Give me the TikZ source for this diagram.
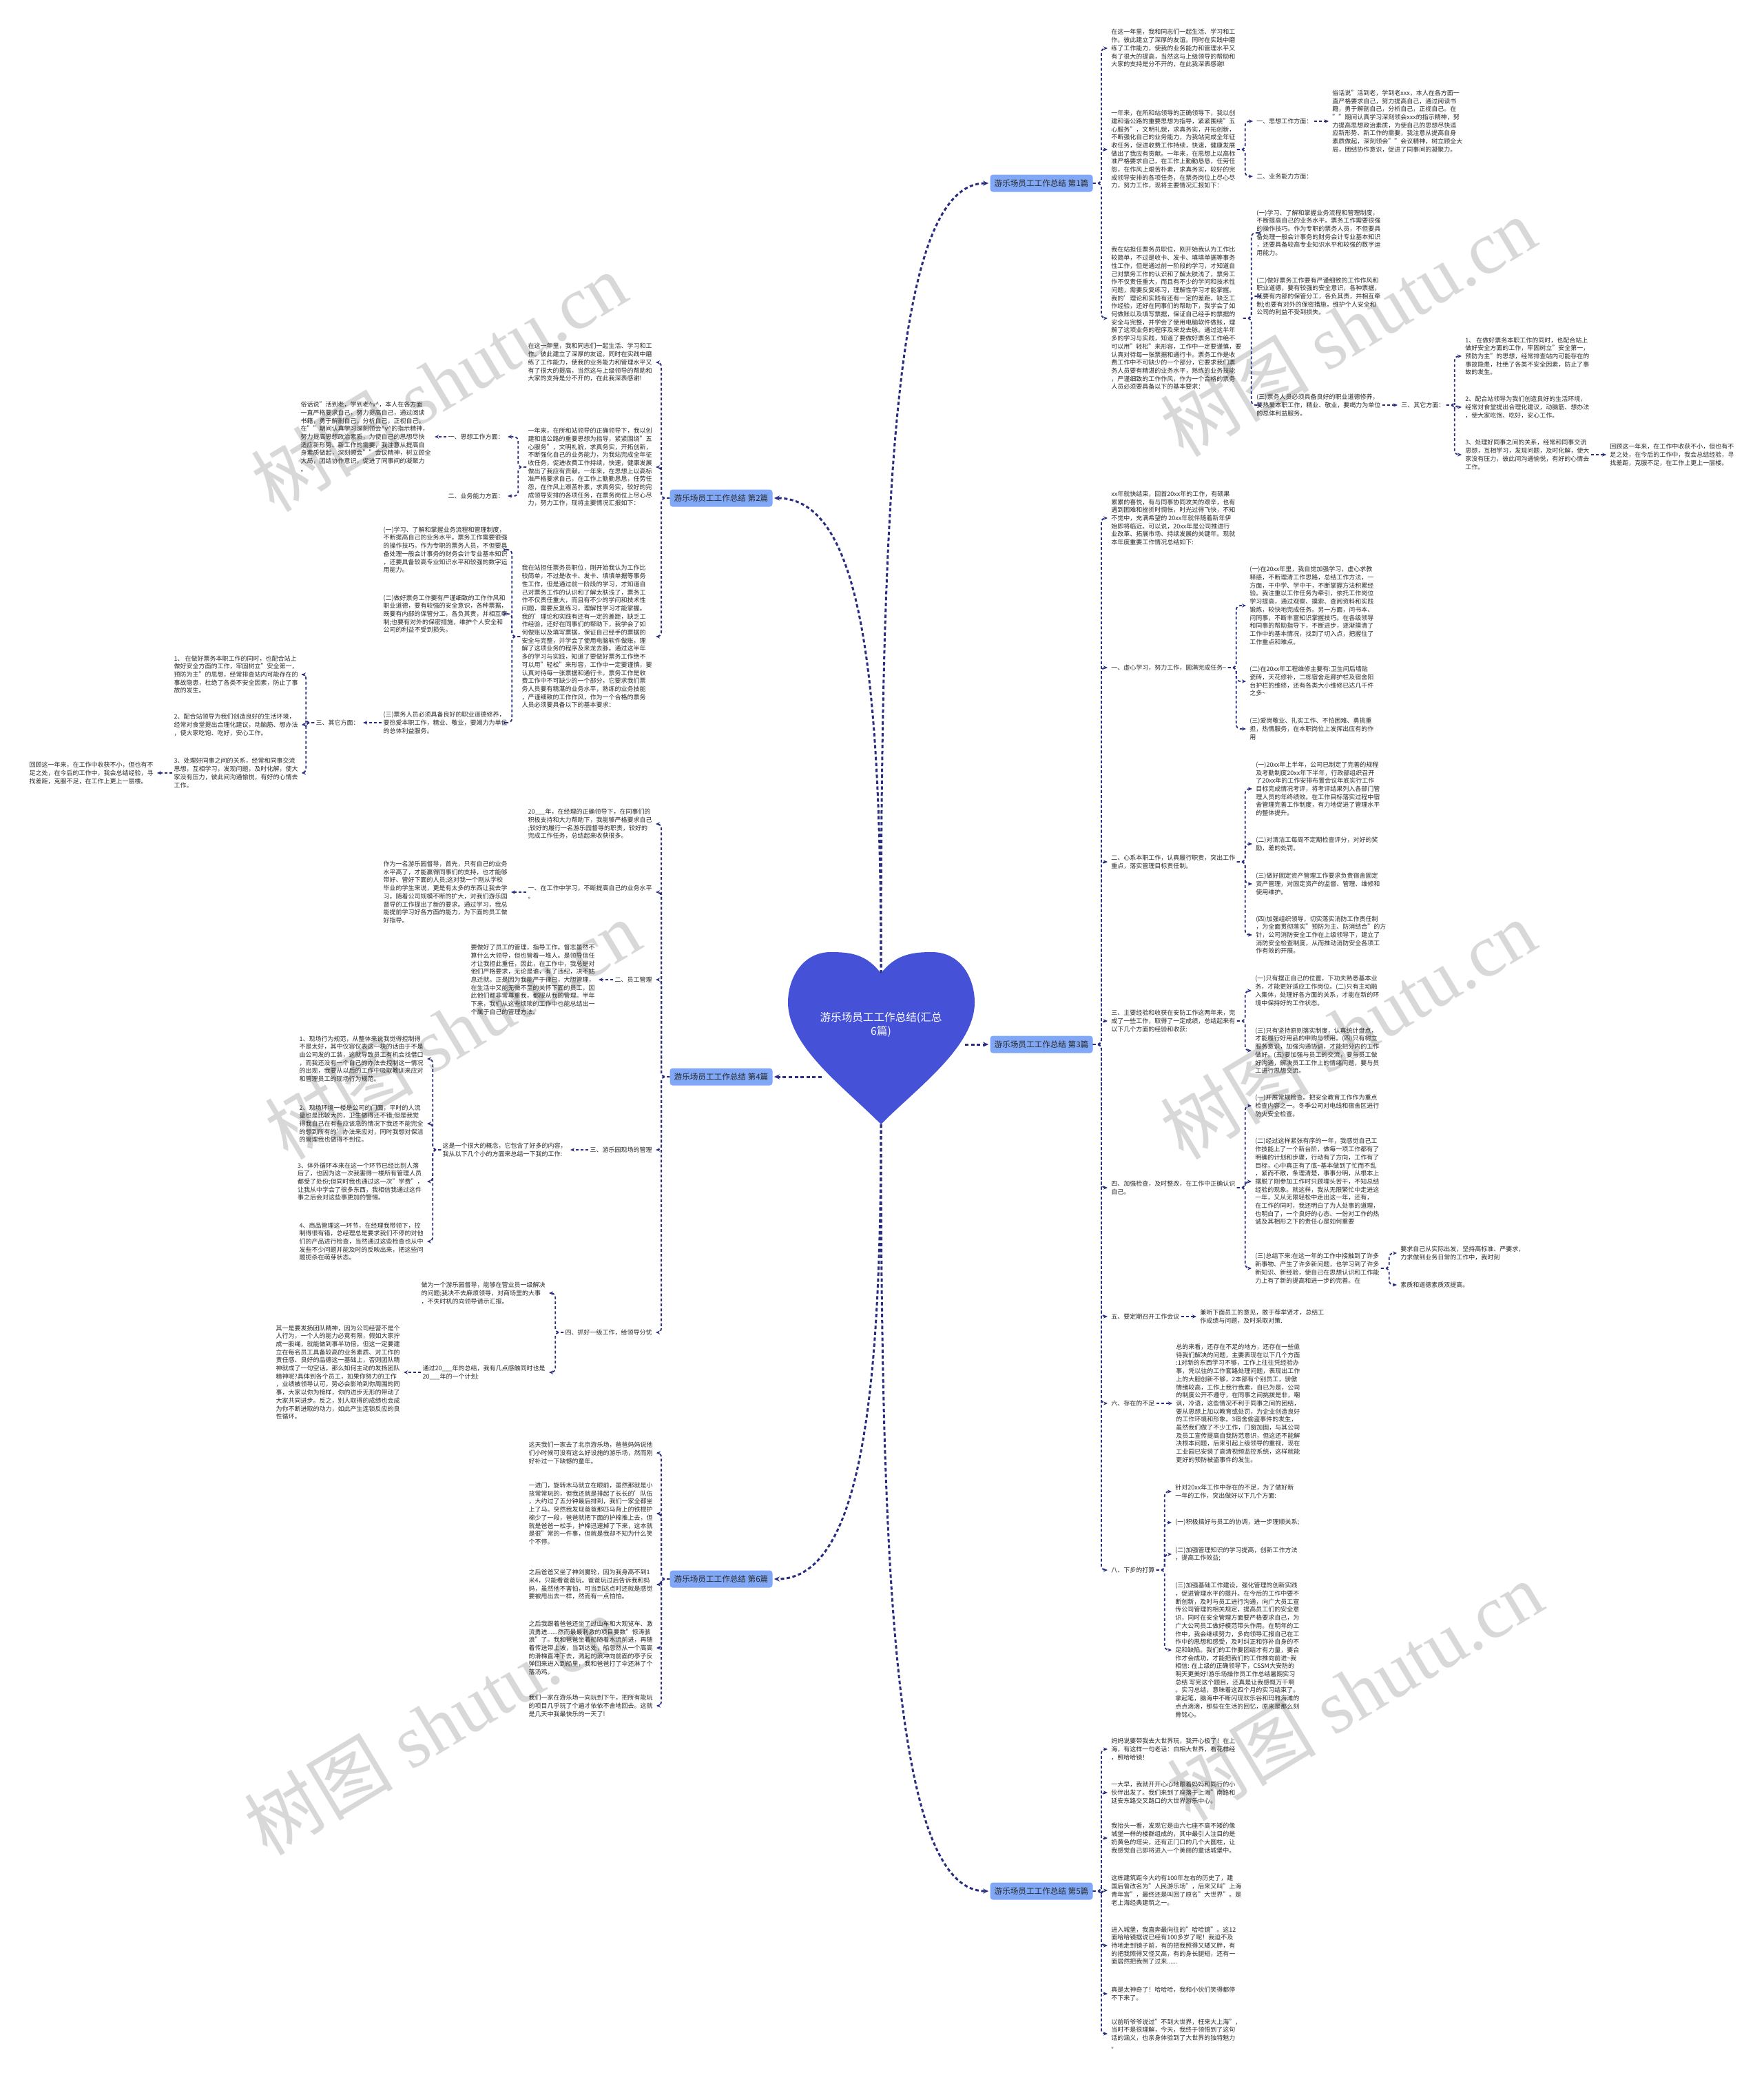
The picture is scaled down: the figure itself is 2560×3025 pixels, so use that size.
\documentclass[tikz,border=0pt]{standalone}
\usepackage{fontspec}
\setmainfont{Noto Sans CJK SC}
\newfontfamily\wmserif{Liberation Serif}
\usetikzlibrary{arrows.meta}
\XeTeXlinebreaklocale "zh"
\XeTeXlinebreakskip = 0pt plus 1pt
\definecolor{linkc}{RGB}{42,46,128}
\definecolor{heartc}{RGB}{69,81,214}
\definecolor{branchc}{RGB}{128,168,246}
\definecolor{textc}{RGB}{40,40,40}
\definecolor{wmc}{RGB}{216,216,216}
\newcommand\fs{\fontsize{4.5pt}{5.85pt}\selectfont}
\newcommand\bfs{\fontsize{5.8pt}{7pt}\selectfont}
\newcommand\hfs{\fontsize{7.8pt}{10pt}\selectfont}
\newcommand\wmfs{\fontsize{54pt}{60pt}\selectfont}
\newcommand\rconn[2]{\draw[lnk] (#1.east) -- ++(12,0) |- (#2.west);}
\newcommand\lconn[2]{\draw[lnk] (#1.west) -- ++(-12,0) |- (#2.east);}
\newcommand\wmark[3]{%
\begin{scope}[shift={(#1,#2)}, rotate=31, transform shape]
\node[wmch] (#3a) at (-303,35) {树};
\node[wmch] (#3b) at (-195,35) {图};
\node[wmch,wmlat] (#3c) at (-60,35) {s};
\node[wmch,wmlat] (#3d) at (-18,35) {h};
\node[wmch,wmlat] (#3e) at (36,35) {u};
\node[wmch,wmlat] (#3f) at (90,35) {t};
\node[wmch,wmlat] (#3g) at (120,35) {u};
\node[wmch,wmlat] (#3h) at (174,35) {.};
\node[wmch,wmlat] (#3i) at (201,35) {c};
\node[wmch,wmlat] (#3j) at (249,35) {n};
\end{scope}}
\begin{document}
\begin{tikzpicture}[x=0.5pt,y=-0.5pt,
  txt/.style={font=\fs, align=left, inner sep=1pt, text=textc},
  lnk/.style={draw=linkc, line width=0.9pt, dash pattern=on 2pt off 1.6pt, rounded corners=3pt, -{Stealth[length=3pt,width=2.6pt]}, shorten >=1.5pt},
  mainlnk/.style={draw=linkc, line width=1.5pt, dash pattern=on 2.5pt off 1.8pt, -{Stealth[length=4pt,width=3.6pt]}, shorten >=1pt},
  branch/.style={fill=branchc, rounded corners=2pt, font=\bfs, minimum width=74.5pt, minimum height=12.5pt, inner sep=2pt, text=textc},
  wmch/.style={font=\wmfs, text=wmc, inner sep=0pt, anchor=base west},
  wmlat/.style={font=\wmfs\wmserif}]
\useasboundingbox (0,0) rectangle (2560,3025);
\fill[white] (0,0) rectangle (2560,3025);

% watermarks
\wmark{640}{560}{wa}
\wmark{1960}{480}{wb}
\wmark{660}{1500}{wc}
\wmark{1960}{1500}{wd}
\wmark{630}{2510}{we}
\wmark{1970}{2460}{wf}

% branch boxes
\node[branch] (b1) at (1512,266) {游乐场员工工作总结 第1篇};
\node[branch] (b3) at (1512,1516) {游乐场员工工作总结 第3篇};
\node[branch] (b5) at (1512,2745) {游乐场员工工作总结 第5篇};
\node[branch] (b2) at (1047,723) {游乐场员工工作总结 第2篇};
\node[branch] (b4) at (1047,1563) {游乐场员工工作总结 第4篇};
\node[branch] (b6) at (1047,2292) {游乐场员工工作总结 第6篇};

\coordinate (htop) at (1279,1413);
\coordinate (hbot) at (1279,1632);
\coordinate (hright) at (1401,1516);
\coordinate (hleft) at (1193,1563);

\draw[mainlnk] (htop) .. controls (1279,700) and (1300,266) .. (b1.west);
\draw[mainlnk] (htop) .. controls (1279,1000) and (1255,723) .. (b2.east);
\draw[mainlnk] (hright) -- (b3.west);
\draw[mainlnk] (hleft) -- (b4.east);
\draw[mainlnk] (hbot) .. controls (1279,2300) and (1300,2745) .. (b5.west);
\draw[mainlnk] (hbot) .. controls (1279,2000) and (1255,2292) .. (b6.east);

% heart
\fill[heartc] (1279,1413) .. controls (1300,1385) and (1325,1382) .. (1353,1382)
  .. controls (1395,1382) and (1415,1420) .. (1415,1455)
  .. controls (1415,1520) and (1330,1580) .. (1279,1632)
  .. controls (1228,1580) and (1144,1520) .. (1144,1455)
  .. controls (1144,1420) and (1165,1382) .. (1206,1382)
  .. controls (1235,1382) and (1258,1385) .. (1279,1413) -- cycle;
\node[font=\hfs, text=white, align=center] (root) at (1279,1487) {游乐场员工工作总结(汇总\\6篇)};

% ===== 第1篇 =====
\node[txt, anchor=west] (a1) at (1611,70) {在这一年里，我和同志们一起生活、学习和工\\
作。彼此建立了深厚的友谊。同时在实践中磨\\
练了工作能力，使我的业务能力和管理水平又\\
有了很大的提高，当然这与上级领导的帮助和\\
大家的支持是分不开的，在此我深表感谢!};
\node[txt, anchor=west] (a2) at (1611,217) {一年来，在所和站领导的正确领导下，我以创\\
建和谐公路的重要思想为指导，紧紧围绕"五\\
心服务"，文明礼貌，求真务实，开拓创新，\\
不断强化自己的业务能力，为我站完成全年征\\
收任务，促进收费工作持续，快速，健康发展\\
做出了我应有贡献。一年来，在思想上以高标\\
准严格要求自己，在工作上勤勤恳恳，任劳任\\
怨，在作风上艰苦朴素，求真务实，较好的完\\
成领导安排的各项任务，在票务岗位上尽心尽\\
力，努力工作，现将主要情况汇报如下：};
\node[txt, anchor=west] (a21) at (1822,176) {一、思想工作方面：};
\node[txt, anchor=west] (a22) at (1822,256) {二、业务能力方面：};
\node[txt, anchor=west] (a211) at (1932,176) {俗话说"活到老，学到老xxx，本人在各方面一\\
直严格要求自己，努力提高自己，通过阅读书\\
籍，勇于解剖自己，分析自己，正视自己。在\\
""期间认真学习深刻领会xxx的指示精神，努\\
力提高思想政治素质，为使自己的思想尽快适\\
应新形势、新工作的需要，我注意从提高自身\\
素质做起，深刻领会""会议精神，树立顾全大\\
局，团结协作意识，促进了同事间的凝聚力。};
\node[txt, anchor=west] (a3) at (1611,462) {我在站担任票务员职位，刚开始我认为工作比\\
较简单，不过是收卡、发卡、填填单据等事务\\
性工作，但是通过前一阶段的学习，才知道自\\
己对票务工作的认识和了解太肤浅了，票务工\\
作不仅责任重大，而且有不少的学问和技术性\\
问题，需要反复练习，理解性学习才能掌握。\\
我的'理论和实践有还有一定的差距，缺乏工\\
作经验，还好在同事们的帮助下，我学会了如\\
何做账以及填写票据，保证自己经手的票据的\\
安全与完整，并学会了使用电脑软件做账，理\\
解了这项业务的程序及来龙去脉。通过这半年\\
多的学习与实践，知道了要做好票务工作绝不\\
可以用"轻松"来形容，工作中一定要谨慎，要\\
认真对待每一张票据和通行卡。票务工作是收\\
费工作中不可缺少的一个部分，它要求我们票\\
务人员要有精湛的业务水平，熟练的业务技能\\
，严谨细致的工作作风，作为一个合格的票务\\
人员必须要具备以下的基本要求：};
\node[txt, anchor=west] (a31) at (1822,338) {(一)学习、了解和掌握业务流程和管理制度，\\
不断提高自己的业务水平。票务工作需要很强\\
的操作技巧。作为专职的票务人员，不但要具\\
备处理一般会计事务的财务会计专业基本知识\\
，还要具备较高专业知识水平和较强的数字运\\
用能力。};
\node[txt, anchor=west] (a32) at (1822,430) {(二)做好票务工作要有严谨细致的工作作风和\\
职业道德，要有较强的安全意识，各种票据，\\
既要有内部的保管分工，各负其责，并相互牵\\
制;也要有对外的保密措施，维护个人安全和\\
公司的利益不受到损失。};
\node[txt, anchor=west] (a33) at (1822,588) {(三)票务人员必须具备良好的职业道德修养，\\
要热爱本职工作，精业、敬业，要竭力为单位\\
的总体利益服务。};
\node[txt, anchor=west] (a331) at (2032,588) {三、其它方面：};
\node[txt, anchor=west] (o1) at (2125,517) {1、 在做好票务本职工作的同时，也配合站上\\
做好安全方面的工作，牢固树立"安全第一，\\
预防为主"的思想，经常排查站内可能存在的\\
事故隐患，杜绝了各类不安全因素，防止了事\\
故的发生。};
\node[txt, anchor=west] (o2) at (2125,591) {2、配合站领导为我们创造良好的生活环境，\\
经常对食堂提出合理化建议，动脑筋、想办法\\
，使大家吃饱、吃好，安心工作。};
\node[txt, anchor=west] (o3) at (2125,660) {3、处理好同事之间的关系，经常和同事交流\\
思想，互相学习，发现问题，及时化解，使大\\
家没有压力，彼此间沟通愉悦，有好的心情去\\
工作。};
\node[txt, anchor=west] (o31) at (2335,660) {回顾这一年来，在工作中收获不小，但也有不\\
足之处，在今后的工作中，我会总结经验，寻\\
找差距，克服不足，在工作上更上一层楼。};

\rconn{b1}{a1} \rconn{b1}{a2} \rconn{b1}{a3}
\rconn{a2}{a21} \rconn{a2}{a22}
\draw[lnk] (a21.east) -- (a211.west);
\rconn{a3}{a31} \rconn{a3}{a32} \rconn{a3}{a33}
\draw[lnk] (a33.east) -- (a331.west);
\rconn{a331}{o1} \rconn{a331}{o2} \rconn{a331}{o3}
\draw[lnk] (o3.east) -- (o31.west);

% ===== 第2篇 =====
\node[txt, anchor=east] (c1) at (949,526) {在这一年里，我和同志们一起生活、学习和工\\
作。彼此建立了深厚的友谊。同时在实践中磨\\
练了工作能力，使我的业务能力和管理水平又\\
有了很大的提高，当然这与上级领导的帮助和\\
大家的支持是分不开的，在此我深表感谢!};
\node[txt, anchor=east] (c2) at (949,678) {一年来，在所和站领导的正确领导下，我以创\\
建和谐公路的重要思想为指导，紧紧围绕"五\\
心服务"，文明礼貌，求真务实，开拓创新，\\
不断强化自己的业务能力，为我站完成全年征\\
收任务，促进收费工作持续，快速，健康发展\\
做出了我应有贡献。一年来，在思想上以高标\\
准严格要求自己，在工作上勤勤恳恳，任劳任\\
怨，在作风上艰苦朴素，求真务实，较好的完\\
成领导安排的各项任务，在票务岗位上尽心尽\\
力，努力工作，现将主要情况汇报如下：};
\node[txt, anchor=east] (c21) at (734,634) {一、思想工作方面：};
\node[txt, anchor=east] (c22) at (734,720) {二、业务能力方面：};
\node[txt, anchor=east] (c211) at (628,634) {俗话说"活到老，学到老\textasciicircum v\textasciicircum ，本人在各方面\\
一直严格要求自己，努力提高自己，通过阅读\\
书籍，勇于解剖自己，分析自己，正视自己。\\
在""期间认真学习深刻领会\textasciicircum v\textasciicircum 的指示精神，\\
努力提高思想政治素质，为使自己的思想尽快\\
适应新形势、新工作的需要，我注意从提高自\\
身素质做起，深刻领会""会议精神，树立顾全\\
大局，团结协作意识，促进了同事间的凝聚力\\
。};
\node[txt, anchor=east] (c3) at (949,924) {我在站担任票务员职位，刚开始我认为工作比\\
较简单，不过是收卡、发卡、填填单据等事务\\
性工作，但是通过前一阶段的学习，才知道自\\
己对票务工作的认识和了解太肤浅了，票务工\\
作不仅责任重大，而且有不少的学问和技术性\\
问题，需要反复练习，理解性学习才能掌握。\\
我的'理论和实践有还有一定的差距，缺乏工\\
作经验，还好在同事们的帮助下，我学会了如\\
何做账以及填写票据，保证自己经手的票据的\\
安全与完整，并学会了使用电脑软件做账，理\\
解了这项业务的程序及来龙去脉。通过这半年\\
多的学习与实践，知道了要做好票务工作绝不\\
可以用"轻松"来形容，工作中一定要谨慎，要\\
认真对待每一张票据和通行卡。票务工作是收\\
费工作中不可缺少的一个部分，它要求我们票\\
务人员要有精湛的业务水平，熟练的业务技能\\
，严谨细致的工作作风，作为一个合格的票务\\
人员必须要具备以下的基本要求：};
\node[txt, anchor=east] (c31) at (739,798) {(一)学习、了解和掌握业务流程和管理制度，\\
不断提高自己的业务水平。票务工作需要很强\\
的操作技巧。作为专职的票务人员，不但要具\\
备处理一般会计事务的财务会计专业基本知识\\
，还要具备较高专业知识水平和较强的数字运\\
用能力。};
\node[txt, anchor=east] (c32) at (739,891) {(二)做好票务工作要有严谨细致的工作作风和\\
职业道德，要有较强的安全意识，各种票据，\\
既要有内部的保管分工，各负其责，并相互牵\\
制;也要有对外的保密措施，维护个人安全和\\
公司的利益不受到损失。};
\node[txt, anchor=east] (c33) at (739,1049) {(三)票务人员必须具备良好的职业道德修养，\\
要热爱本职工作，精业、敬业，要竭力为单位\\
的总体利益服务。};
\node[txt, anchor=east] (c331) at (524,1049) {三、其它方面：};
\node[txt, anchor=east] (d1) at (435,979) {1、 在做好票务本职工作的同时，也配合站上\\
做好安全方面的工作，牢固树立"安全第一，\\
预防为主"的思想，经常排查站内可能存在的\\
事故隐患，杜绝了各类不安全因素，防止了事\\
故的发生。};
\node[txt, anchor=east] (d2) at (435,1052) {2、配合站领导为我们创造良好的生活环境，\\
经常对食堂提出合理化建议，动脑筋、想办法\\
，使大家吃饱、吃好，安心工作。};
\node[txt, anchor=east] (d3) at (435,1122) {3、处理好同事之间的关系，经常和同事交流\\
思想，互相学习，发现问题，及时化解，使大\\
家没有压力，彼此间沟通愉悦，有好的心情去\\
工作。};
\node[txt, anchor=east] (d31) at (225,1122) {回顾这一年来，在工作中收获不小，但也有不\\
足之处，在今后的工作中，我会总结经验，寻\\
找差距，克服不足，在工作上更上一层楼。};

\lconn{b2}{c1} \lconn{b2}{c2} \lconn{b2}{c3}
\lconn{c2}{c21} \lconn{c2}{c22}
\draw[lnk] (c21.west) -- (c211.east);
\lconn{c3}{c31} \lconn{c3}{c32} \lconn{c3}{c33}
\draw[lnk] (c33.west) -- (c331.east);
\lconn{c331}{d1} \lconn{c331}{d2} \lconn{c331}{d3}
\draw[lnk] (d3.west) -- (d31.east);

% ===== 第3篇 =====
\node[txt, anchor=west] (e1) at (1611,752) {xx年就快结束，回首20xx年的工作，有硕果\\
累累的喜悦，有与同事协同攻关的艰辛，也有\\
遇到困难和挫折时惆怅，时光过得飞快，不知\\
不觉中，充满希望的 20xx年就伴随着新年伊\\
始即将临近。可以说，20xx年是公司推进行\\
业改革、拓展市场、持续发展的关键年。现就\\
本年度重要工作情况总结如下:};
\node[txt, anchor=west] (e2) at (1611,969) {一、虚心学习，努力工作，圆满完成任务\textasciitilde};
\node[txt, anchor=west] (e21) at (1812,879) {(一)在20xx年里，我自觉加强学习，虚心求教\\
释惑，不断理清工作思路，总结工作方法，一\\
方面，干中学、学中干，不断掌握方法积累经\\
验。我注重以工作任务为牵引，依托工作岗位\\
学习提高，通过观察、摸索、查阅资料和实践\\
锻炼，较快地完成任务。另一方面，问书本、\\
问同事，不断丰富知识掌握技巧。在各级领导\\
和同事的帮助指导下，不断进步，逐渐摸清了\\
工作中的基本情况，找到了切入点，把握住了\\
工作重点和难点。};
\node[txt, anchor=west] (e22) at (1812,989) {(二)在20xx年工程维修主要有:卫生间后墙贴\\
瓷砖，天花修补，二栋宿舍走廊护栏及宿舍阳\\
台护栏的维修，还有各类大小维修已达几千件\\
之多\textasciitilde};
\node[txt, anchor=west] (e23) at (1812,1058) {(三)爱岗敬业、扎实工作、不怕困难、勇挑重\\
担，热情服务，在本职岗位上发挥出应有的作\\
用};
\node[txt, anchor=west] (e3) at (1611,1251) {二、心系本职工作，认真履行职责，突出工作\\
重点，落实管理目标责任制。};
\node[txt, anchor=west] (e31) at (1821,1145) {(一)20xx年上半年，公司已制定了完善的规程\\
及考勤制度20xx年下半年，行政部组织召开\\
了20xx年的工作安排布置会议年底实行工作\\
目标完成情况考评，将考评结果列入各部门管\\
理人员的年终绩效。在工作目标落实过程中宿\\
舍管理完善工作制度，有力地促进了管理水平\\
的整体提升。};
\node[txt, anchor=west] (e32) at (1821,1225) {(二)对清洁工每周不定期检查评分，对好的奖\\
励，差的处罚。};
\node[txt, anchor=west] (e33) at (1821,1283) {(三)做好固定资产管理工作要求负责宿舍固定\\
资产管理，对固定资产的监督、管理、维修和\\
使用维护。};
\node[txt, anchor=west] (e34) at (1821,1357) {(四)加强组织领导，切实落实消防工作责任制\\
，为全面贯彻落实"预防为主、防消结合"的方\\
针，公司消防安全工作在上级领导下，建立了\\
消防安全检查制度，从而推动消防安全各项工\\
作有效的开展。};
\node[txt, anchor=west] (e4) at (1611,1482) {三、主要经验和收获在安防工作这两年来，完\\
成了一些工作，取得了一定成绩，总结起来有\\
以下几个方面的经验和收获:};
\node[txt, anchor=west] (e41) at (1820,1438) {(一)只有摆正自己的位置，下功夫熟悉基本业\\
务，才能更好适应工作岗位。(二)只有主动融\\
入集体，处理好各方面的关系，才能在新的环\\
境中保持好的工作状态。};
\node[txt, anchor=west] (e42) at (1820,1525) {(三)只有坚持原则落实制度，认真统计盘点，\\
才能履行好用品的申购与领用。(四)只有树立\\
服务意识，加强沟通协调，才能把分内的工作\\
做好。(五)要加强与员工的交流，要与员工做\\
好沟通，解决员工工作上的情绪问题，要与员\\
工进行思想交流。};
\node[txt, anchor=west] (e5) at (1611,1724) {四、加强检查，及时整改，在工作中正确认识\\
自己。};
\node[txt, anchor=west] (e51) at (1820,1605) {(一)开展常规检查。把安全教育工作作为重点\\
检查内容之一。冬季公司对电线和宿舍区进行\\
防火安全检查。};
\node[txt, anchor=west] (e52) at (1820,1715) {(二)经过这样紧张有序的一年，我感觉自己工\\
作技能上了一个新台阶，做每一项工作都有了\\
明确的计划和步骤，行动有了方向，工作有了\\
目标，心中真正有了底\textasciitilde 基本做到了忙而不乱\\
，紧而不散，条理清楚，事事分明，从根本上\\
摆脱了刚参加工作时只顾埋头苦干，不知总结\\
经验的现象。就这样，我从无限繁忙中走进这\\
一年，又从无限轻松中走出这一年，还有，\\
在工作的同时，我还明白了为人处事的道理，\\
也明白了，一个良好的心态、一份对工作的热\\
诚及其相形之下的责任心是如何重要};
\node[txt, anchor=west] (e53) at (1820,1841) {(三)总结下来:在这一年的工作中接触到了许多\\
新事物、产生了许多新问题，也学习到了许多\\
新知识、新经验，使自己在思想认识和工作能\\
力上有了新的提高和进一步的完善。在};
\node[txt, anchor=west] (e531) at (2031,1819) {要求自己从实际出发，坚持高标准、严要求，\\
力求做到业务日常的工作中，我时刻};
\node[txt, anchor=west] (e532) at (2031,1865) {素质和道德素质双提高。};
\node[txt, anchor=west] (e6) at (1611,1911) {五、要定期召开工作会议};
\node[txt, anchor=west] (e61) at (1740,1911) {兼听下面员工的意见，敢于荐举贤才，总结工\\
作成绩与问题，及时采取对策.};
\node[txt, anchor=west] (e7) at (1611,2037) {六、存在的不足};
\node[txt, anchor=west] (e71) at (1705,2037) {总的来看，还存在不足的地方，还存在一些亟\\
待我们解决的问题，主要表现在以下几个方面\\
:1对新的东西学习不够，工作上往往凭经验办\\
事，凭以往的工作套路处理问题，表现出工作\\
上的大胆创新不够，2本部有个别员工，骄傲\\
情绪较高，工作上我行我素，自已为是，公司\\
的制度公开不遵守，在同事之间挑拨是非，嘲\\
讽，冷语，这些情况不利于同事之间的团结，\\
要从思想上加以教育或处罚，为企业创造良好\\
的工作环境和形象。3宿舍偷盗事件的发生，\\
虽然我们做了不少工作，门窗加固，与其公司\\
及员工宣传提高自我防范意识，但这还不能解\\
决根本问题，后来引起上级领导的重视，现在\\
工业园已安装了高清视频监控系统，这样就能\\
更好的预防被盗事件的发生。};
\node[txt, anchor=west] (e8) at (1611,2279) {八、下步的打算};
\node[txt, anchor=west] (e81) at (1704,2165) {针对20xx年工作中存在的不足，为了做好新\\
一年的工作，突出做好以下几个方面:};
\node[txt, anchor=west] (e82) at (1704,2210) {(一)积极搞好与员工的协调，进一步理顺关系;};
\node[txt, anchor=west] (e83) at (1704,2256) {(二)加强管理知识的学习提高，创新工作方法\\
，提高工作效益;};
\node[txt, anchor=west] (e84) at (1704,2395) {(三)加强基础工作建设，强化管理的创新实践\\
，促进管理水平的提升。在今后的工作中要不\\
断创新，及时与员工进行沟通，向广大员工宣\\
传公司管理的相关规定，提高员工们的安全意\\
识，同时在安全管理方面要严格要求自己，为\\
广大公司员工做好模范带头作用。在明年的工\\
作中，我会继续努力，多向领导汇报自己在工\\
作中的思想和感受，及时纠正和弥补自身的不\\
足和缺陷。我们的工作要团结才有力量，要合\\
作才会成功，才能把我们的工作推向前进\textasciitilde 我\\
相信: 在上级的正确领导下，CSSM大安防的\\
明天更美好!游乐场操作员工作总结暑期实习\\
总结 写完这个题目，还真是让我感慨万千啊\\
。实习总结，意味着这四个月的实习结束了。\\
拿起笔，脑海中不断闪现欢乐谷和玛雅海滩的\\
点点滴滴，那些在生活的回忆，原来是那么刻\\
骨铭心。};

\rconn{b3}{e1} \rconn{b3}{e2} \rconn{b3}{e3} \rconn{b3}{e4}
\rconn{b3}{e5} \rconn{b3}{e6} \rconn{b3}{e7} \rconn{b3}{e8}
\rconn{e2}{e21} \rconn{e2}{e22} \rconn{e2}{e23}
\rconn{e3}{e31} \rconn{e3}{e32} \rconn{e3}{e33} \rconn{e3}{e34}
\rconn{e4}{e41} \rconn{e4}{e42}
\rconn{e5}{e51} \rconn{e5}{e52} \rconn{e5}{e53}
\rconn{e53}{e531} \rconn{e53}{e532}
\draw[lnk] (e6.east) -- (e61.west);
\draw[lnk] (e7.east) -- (e71.west);
\rconn{e8}{e81} \rconn{e8}{e82} \rconn{e8}{e83} \rconn{e8}{e84}

% ===== 第4篇 =====
\node[txt, anchor=east] (f1) at (949,1196) {20\_\_\_年，在经理的正确领导下，在同事们的\\
积极支持和大力帮助下，我能够严格要求自己\\
;较好的履行一名游乐园督导的职责，较好的\\
完成工作任务，总结起来收获很多。};
\node[txt, anchor=east] (f2) at (949,1295) {一、在工作中学习，不断提高自己的业务水平\\
。};
\node[txt, anchor=east] (f21) at (739,1295) {作为一名游乐园督导，首先，只有自己的业务\\
水平高了，才能赢得同事们的支持，也才能够\\
带好、管好下面的人员;这对我一个刚从学校\\
毕业的学生来说，更是有太多的东西让我去学\\
习。随着公司规模不断的扩大，对我们游乐园\\
督导的工作提出了新的要求。通过学习，我总\\
能提前学习好各方面的能力，为下面的员工做\\
好指导。};
\node[txt, anchor=east] (f3) at (949,1422) {二、员工管理};
\node[txt, anchor=east] (f31) at (866,1422) {要做好了员工的管理，指导工作。督志虽然不\\
算什么大领导，但也管着一堆人。是领导信任\\
才让我担此重任，因此，在工作中，我总是对\\
他们严格要求，无论是谁，有了违纪，决不姑\\
息迁就。正是因为我能严于律已，大胆管理，\\
在生活中又能无微不至的关怀下面的员工，因\\
此他们都非常尊重我，都服从我的管理。半年\\
下来，我们从这些烦琐的工作中也能总结出一\\
个属于自己的管理方法。};
\node[txt, anchor=east] (f4) at (949,1669) {三、游乐园现场的管理};
\node[txt, anchor=east] (f41) at (825,1669) {这是一个很大的概念，它包含了好多的内容，\\
我从以下几个小的方面来总结一下我的工作:};
\node[txt, anchor=east] (g1) at (617,1537) {1、现场行为规范，从整体来说我觉得控制得\\
不是太好，其中仪容仪表这一块的话由于不是\\
由公司发的工装，这就导致员工有机会找借口\\
，而我还没有一个自己的办法去控制这一情况\\
的出现，我要从以后的工作中吸取教训来应对\\
和管理员工的现场行为规范。};
\node[txt, anchor=east] (g2) at (617,1631) {2、现场环境一楼是公司的门面，平时的人流\\
量也是比较大的，卫生做得还不错;但是我觉\\
得我自己在有些应该急的情况下我还不能完全\\
的想到所有的'办法来应对，同时我想对保洁\\
的管理我也做得不到位。};
\node[txt, anchor=east] (g3) at (617,1715) {3、体外循环本来在这一个环节已经比别人落\\
后了，也因为这一次我害得一楼所有管理人员\\
都受了处份;但同时我也通过这一次"学费"，\\
让我从中学会了很多东西，我相信我通过这件\\
事之后会对这些事更加的警惕。};
\node[txt, anchor=east] (g4) at (617,1802) {4、商品管理这一环节，在经理我带领下，控\\
制得很有错，总经理总是要求我们不停的对他\\
们的产品进行检查，当然通过这些检查也从中\\
发些不少问题并能及时的反映出来，把这些问\\
题扼杀在萌芽状态。};
\node[txt, anchor=east] (f5) at (949,1934) {四、抓好一级工作，给领导分忧};
\node[txt, anchor=east] (f51) at (794,1877) {做为一个游乐园督导，能够在营业员一级解决\\
的问题;我决不去麻烦领导，对商场里的大事\\
，不失时机的向领导请示汇报。};
\node[txt, anchor=east] (f52) at (794,1992) {通过20\_\_\_年的总结，我有几点感触同时也是\\
20\_\_\_年的一个计划:};
\node[txt, anchor=east] (f521) at (583,1992) {其一是要发扬团队精神，因为公司经营不是个\\
人行为，一个人的能力必竟有限，假如大家拧\\
成一股绳，就能做到事半功倍。但这一定要建\\
立在每名员工具备较高的业务素质、对工作的\\
责任感、良好的品德这一基础上，否则团队精\\
神就成了一句空话。那么如何主动的发扬团队\\
精神呢?具体到各个员工，如果你努力的工作\\
，业绩被领导认可，势必会影响到你周围的同\\
事，大家以你为榜样，你的进步无形的带动了\\
大家共同进步。反之，别人取得的成绩也会成\\
为你不断进取的动力，如此产生连锁反应的良\\
性循环。};

\lconn{b4}{f1} \lconn{b4}{f2} \lconn{b4}{f3} \lconn{b4}{f4} \lconn{b4}{f5}
\draw[lnk] (f2.west) -- (f21.east);
\draw[lnk] (f3.west) -- (f31.east);
\draw[lnk] (f4.west) -- (f41.east);
\lconn{f41}{g1} \lconn{f41}{g2} \lconn{f41}{g3} \lconn{f41}{g4}
\lconn{f5}{f51} \lconn{f5}{f52}
\draw[lnk] (f52.west) -- (f521.east);

% ===== 第6篇 =====
\node[txt, anchor=east] (h1) at (950,2109) {这天我们一家去了北京游乐场，爸爸妈妈说他\\
们小时候可没有这么好设施的游乐场，然而刚\\
好补过一下缺憾的童年。};
\node[txt, anchor=east] (h2) at (950,2197) {一进门，旋转木马就立在眼前，虽然那就是小\\
孩常常玩的，但我还就是排起了长长的'队伍\\
，大约过了五分钟最后排到，我们一家全都坐\\
上了马。突然我发现爸爸那匹马背上的铁棍护\\
棉少了一段，爸爸就把下面的护棉推上去，但\\
就是爸爸一松手，护棉迅速掉了下来，这本就\\
是很"常的一件事，但就是我却不知为什么笑\\
个不停。};
\node[txt, anchor=east] (h3) at (950,2300) {之后爸爸又坐了神剑魔轮，因为我身高不到1\\
米4，只能看爸爸玩。爸爸玩过后告诉我和妈\\
妈，虽然他不害怕，可当到达点时还就是感觉\\
要被甩出去一样，然而有一点怕怕。};
\node[txt, anchor=east] (h4) at (950,2392) {之后我跟着爸爸还坐了过山车和大观览车、激\\
流勇进......然而最最刺激的项目要数"惊涛骇\\
浪"了。我和爸爸坐着船随着水流前进，再随\\
着传送带上坡，当到达处，船忽然从一个高高\\
的滑梯直冲下去，溅起的浪冲向前面的亭子反\\
弹回来进入到船里，我和爸爸打了伞还淋了个\\
落汤鸡。};
\node[txt, anchor=east] (h5) at (950,2476) {我们一家在游乐场一向玩到下午，把所有能玩\\
的项目几乎玩了个遍才依依不舍地回去。这就\\
是几天中我最快乐的一天了!};

\lconn{b6}{h1} \lconn{b6}{h2} \lconn{b6}{h3} \lconn{b6}{h4} \lconn{b6}{h5}

% ===== 第5篇 =====
\node[txt, anchor=west] (k1) at (1611,2539) {妈妈说要带我去大世界玩，我开心极了！在上\\
海，有这样一句老话：白相大世界，看花样经\\
，照哈哈镜！};
\node[txt, anchor=west] (k2) at (1611,2602) {一大早，我就开开心心地跟着妈妈和同行的小\\
伙伴出发了。我们来到了座落于上海"南路和\\
延安东路交叉路口的大世界游乐中心。};
\node[txt, anchor=west] (k3) at (1611,2668) {我抬头一看，发现它是由六七座不高不矮的像\\
城堡一样的楼群组成的，其中最引人注目的是\\
奶黄色的塔尖，还有正门口的几个大圆柱，让\\
我感觉自己即将进入一个美丽的童话城堡中。};
\node[txt, anchor=west] (k4) at (1611,2744) {这栋建筑距今大约有100年左右的历史了，建\\
国后曾改名为"人民游乐场"，后来又叫"上海\\
青年宫"，最终还是叫回了原名"大世界"。是\\
老上海经典建筑之一。};
\node[txt, anchor=west] (k5) at (1611,2824) {进入城堡，我直奔最向往的"哈哈镜"。这12\\
面哈哈镜据说已经有100多岁了呢！我迫不及\\
待地走到镜子前，有的把我照得又矮又胖，有\\
的把我照得又怪又高，有的身长腿短，还有一\\
面居然把我倒了过来......};
\node[txt, anchor=west] (k6) at (1611,2894) {真是太神奇了！哈哈哈，我和小伙们笑得都停\\
不下来了。};
\node[txt, anchor=west] (k7) at (1611,2952) {以前听爷爷说过"不到大世界，枉来大上海"，\\
当时不是很理解，今天，我终于领悟到了这句\\
话的涵义，也亲身体验到了大世界的独特魅力\\
。};

\rconn{b5}{k1} \rconn{b5}{k2} \rconn{b5}{k3} \rconn{b5}{k4}
\rconn{b5}{k5} \rconn{b5}{k6} \rconn{b5}{k7}
\end{tikzpicture}
\end{document}
